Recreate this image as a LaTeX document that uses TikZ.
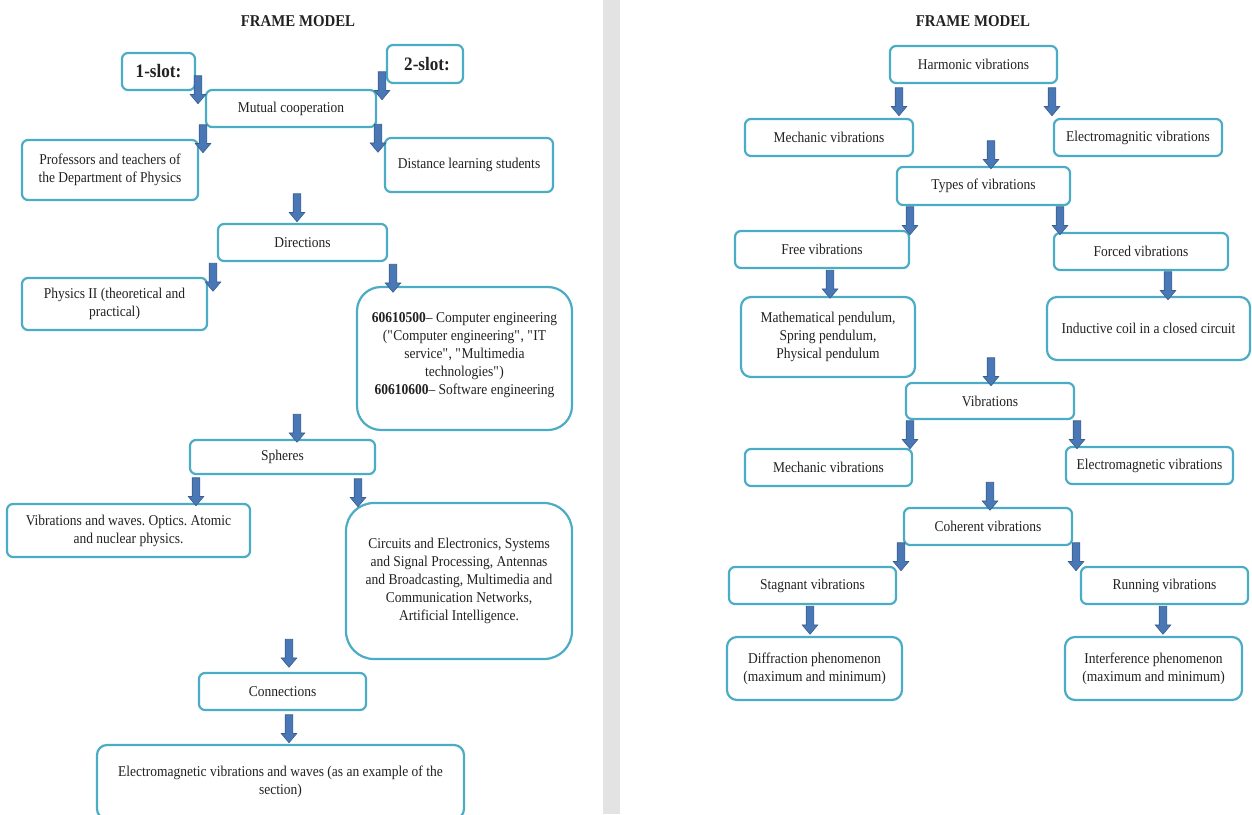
\documentclass[tikz,border=0pt]{standalone}
\usepackage{fontspec}
\setmainfont{Liberation Serif}[FakeStretch=0.9]
\usetikzlibrary{shapes.arrows}
\newcommand{\dq}{\XeTeXglyph\XeTeXglyphindex "quotedbl"\relax}
\frenchspacing
\definecolor{boxc}{HTML}{4BACC6}
\definecolor{arrf}{HTML}{4A78B6}
\definecolor{arrd}{HTML}{385D8A}
\definecolor{txt}{HTML}{222222}
\definecolor{sep}{HTML}{E3E3E3}
\tikzset{
  bx/.style={draw=boxc, line width=2.2pt, rounded corners=6pt, fill=white, align=center,
    text=txt, inner sep=2pt, font=\fontsize{15}{18}\selectfont},
  bigbx/.style={bx, rounded corners=24pt},
  midbx/.style={bx, rounded corners=10pt},
  slotbx/.style={bx, font=\fontsize{19}{22}\selectfont\bfseries},
  barrow/.style={single arrow, rotate=-90, fill=arrf, draw=arrd, line width=0.6pt,
    minimum height=28pt, inner sep=3.5pt, single arrow head extend=4pt,
    single arrow tip angle=80, single arrow head indent=0pt},
  ttl/.style={text=txt, font=\fontsize{16.5}{18}\selectfont\bfseries}
}
\begin{document}
\begin{tikzpicture}[x=1pt,y=-1pt]
\useasboundingbox (0,0) rectangle (1252,814);
\fill[white] (0,0) rectangle (1252,814);
\fill[sep] (603,0) rectangle (620,814);
% ---------- left panel ----------
\node[ttl] (t1) at (298,21) {FRAME MODEL};
\node[slotbx, minimum width=73pt, minimum height=37pt] (s1) at (158.5,71.5) {1-slot:};
\node[slotbx, minimum width=76pt, minimum height=38pt] (s2) at (425,64) {\hspace*{4pt}2-slot:};
\node[bx, minimum width=170pt, minimum height=37pt] (mut) at (291,108.5) {Mutual cooperation};
\node[bx, minimum width=176pt, minimum height=60pt] (prof) at (110,170) {Professors and teachers of\\the Department of Physics};
\node[bx, minimum width=168pt, minimum height=54pt] (dist) at (469,165) {Distance learning students};
\node[bx, minimum width=169pt, minimum height=37pt] (dir) at (302.5,242.5) {Directions};
\node[bx, minimum width=185pt, minimum height=52pt] (phys) at (114.5,304) {Physics II (theoretical and\\practical)};
\node[bigbx, minimum width=215pt, minimum height=143pt] (spec) at (464.5,358.5)
  {\textbf{60610500}– Computer engineering\\(\dq Computer engineering\dq, \dq IT\\service\dq, \dq Multimedia\\technologies\dq)\\\textbf{60610600}– Software engineering\\[-8pt]\mbox{}};
\node[bx, minimum width=185pt, minimum height=34pt] (sph) at (282.5,457) {Spheres};
\node[bx, minimum width=243pt, minimum height=53pt] (vw) at (128.5,530.5) {Vibrations and waves. Optics. Atomic\\and nuclear physics.};
\node[bigbx, rounded corners=28pt, minimum width=226pt, minimum height=156pt] (circ) at (459,581)
  {Circuits and Electronics, Systems\\and Signal Processing, Antennas\\and Broadcasting, Multimedia and\\Communication Networks,\\Artificial Intelligence.};
\node[bx, minimum width=167pt, minimum height=37pt] (conn) at (282.5,691.5) {Connections};
\node[midbx, minimum width=367pt, minimum height=74pt] (em) at (280.5,782) {Electromagnetic vibrations and waves (as an example of the\\section)};
% left arrows
\node[barrow] (la1) at (198,87.5) {};
\node[barrow] (la2) at (382,83.5) {};
\node[barrow] (la3) at (203,136.5) {};
\node[barrow] (la4) at (378,136) {};
\node[barrow] (la5) at (297,205.5) {};
\node[barrow] (la6) at (213,275) {};
\node[barrow] (la7) at (393,276) {};
\node[barrow] (la8) at (297,426) {};
\node[barrow] (la9) at (196,489.5) {};
\node[barrow] (la10) at (358,490.5) {};
\node[barrow] (la11) at (289,651) {};
\node[barrow] (la12) at (289,726.5) {};
% ---------- right panel ----------
\node[ttl] (t2) at (973,21) {FRAME MODEL};
\node[bx, minimum width=167pt, minimum height=37pt] (harm) at (973.5,64.5) {Harmonic vibrations};
\node[bx, minimum width=168pt, minimum height=37pt] (mech1) at (829,137.5) {Mechanic vibrations};
\node[bx, minimum width=168pt, minimum height=37pt] (elec1) at (1138,137.5) {Electromagnitic vibrations};
\node[bx, minimum width=173pt, minimum height=38pt] (types) at (983.5,186) {Types of vibrations};
\node[bx, minimum width=174pt, minimum height=37pt] (free) at (822,249.5) {Free vibrations};
\node[bx, minimum width=174pt, minimum height=37pt] (forced) at (1141,251.5) {Forced vibrations};
\node[midbx, minimum width=174pt, minimum height=80pt] (pend) at (828,337) {Mathematical pendulum,\\Spring pendulum,\\Physical pendulum};
\node[midbx, minimum width=203pt, minimum height=63pt] (coil) at (1148.5,328.5) {Inductive coil in a closed circuit};
\node[bx, minimum width=168pt, minimum height=36pt] (vibr) at (990,401) {Vibrations};
\node[bx, minimum width=167pt, minimum height=37pt] (mech2) at (828.5,467.5) {Mechanic vibrations};
\node[bx, minimum width=167pt, minimum height=37pt] (elec2) at (1149.5,465.5) {Electromagnetic vibrations};
\node[bx, minimum width=168pt, minimum height=37pt] (coh) at (988,526.5) {Coherent vibrations};
\node[bx, minimum width=167pt, minimum height=37pt] (stag) at (812.5,585.5) {Stagnant vibrations};
\node[bx, minimum width=167pt, minimum height=37pt] (run) at (1164.5,585.5) {Running vibrations};
\node[midbx, minimum width=175pt, minimum height=63pt] (diff) at (814.5,668.5) {Diffraction phenomenon\\(maximum and minimum)};
\node[midbx, minimum width=177pt, minimum height=63pt] (inter) at (1153.5,668.5) {Interference phenomenon\\(maximum and minimum)};
% right arrows
\node[barrow] (ra1) at (899,99.5) {};
\node[barrow] (ra2) at (1052,99.5) {};
\node[barrow] (ra3) at (991,152.5) {};
\node[barrow] (ra4) at (910,218.5) {};
\node[barrow] (ra5) at (1060,218.5) {};
\node[barrow] (ra6) at (830,282) {};
\node[barrow] (ra7) at (1168,283.5) {};
\node[barrow] (ra8) at (991,369.5) {};
\node[barrow] (ra9) at (910,432.5) {};
\node[barrow] (ra10) at (1077,432.5) {};
\node[barrow] (ra11) at (990,494) {};
\node[barrow] (ra12) at (901,554.5) {};
\node[barrow] (ra13) at (1076,554.5) {};
\node[barrow] (ra14) at (810,618) {};
\node[barrow] (ra15) at (1163,618) {};
\end{tikzpicture}
\end{document}
